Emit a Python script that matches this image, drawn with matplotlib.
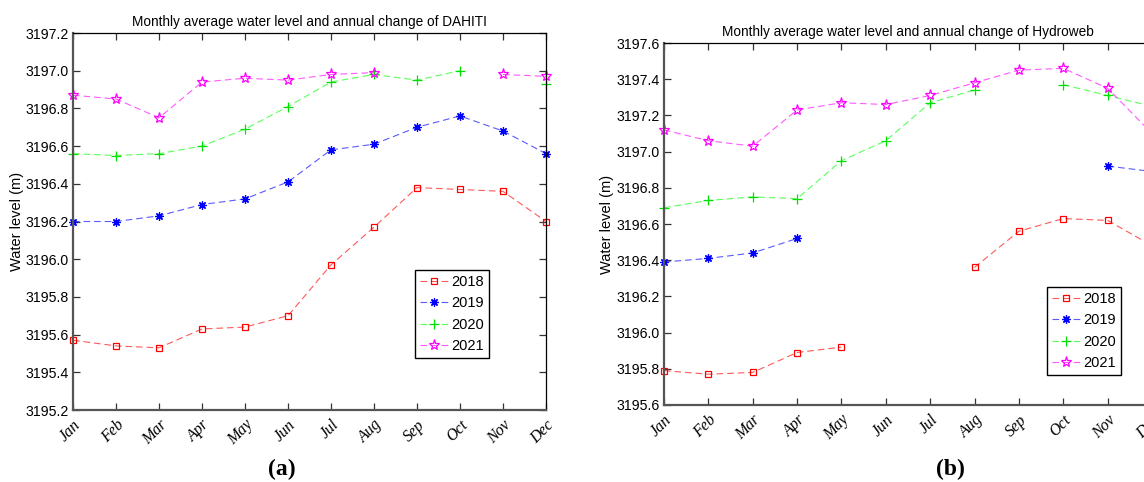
import numpy as np
import matplotlib.pyplot as plt
import matplotlib.transforms as mtransforms

nan = np.nan

months = ['Jan', 'Feb', 'Mar', 'Apr', 'May', 'Jun', 'Jul', 'Aug', 'Sep', 'Oct', 'Nov', 'Dec']
years = ['2018', '2019', '2020', '2021']

# DAHITI monthly means (m)
dahiti_2018 = [3195.57, 3195.54, 3195.53, 3195.63, 3195.64, 3195.70, 3195.97, 3196.17, 3196.38, 3196.37, 3196.36, 3196.20]
dahiti_2019 = [3196.20, 3196.20, 3196.23, 3196.29, 3196.32, 3196.41, 3196.58, 3196.61, 3196.70, 3196.76, 3196.68, 3196.56]
dahiti_2020 = [3196.56, 3196.55, 3196.56, 3196.60, 3196.69, 3196.81, 3196.94, 3196.98, 3196.95, 3197.00, nan, 3196.93]
dahiti_2021 = [3196.87, 3196.85, 3196.75, 3196.94, 3196.96, 3196.95, 3196.98, 3196.99, nan, nan, 3196.98, 3196.97]

# Hydroweb monthly means (m)
hydro_2018 = [3195.79, 3195.77, 3195.78, 3195.89, 3195.92, nan, nan, 3196.36, 3196.56, 3196.63, 3196.62, 3196.48]
hydro_2019 = [3196.39, 3196.41, 3196.44, 3196.52, nan, nan, nan, nan, nan, nan, 3196.92, 3196.89]
hydro_2020 = [3196.69, 3196.73, 3196.75, 3196.74, 3196.95, 3197.06, 3197.27, 3197.34, nan, 3197.37, 3197.31, 3197.25]
hydro_2021 = [3197.12, 3197.06, 3197.03, 3197.23, 3197.27, 3197.26, 3197.31, 3197.38, 3197.45, 3197.46, 3197.35, 3197.10]

# line colour, marker colour, marker, size, face
styles = [
    ('#ff5a5a', '#ff0000', 's', 5, 'none'),
    ('#5a5aff', '#0000ff', (8, 2, 0), 6, '#0000ff'),
    ('#5aff5a', '#00e000', '+', 7, 'none'),
    ('#ff5aff', '#ff00ff', '*', 8, 'none'),
]

sans = ['Liberation Sans', 'DejaVu Sans']
serif = ['Liberation Serif', 'DejaVu Serif']

W, H = 1144, 482
fig = plt.figure(figsize=(W / 100, H / 100), dpi=100)


def px_axes(l, r, t, b):
    return fig.add_axes([l / W, (H - b) / H, (r - l) / W, (b - t) / H])


def draw(ax, series, ylim, title, ylab_x):
    x = np.arange(len(months))
    for vals, yr, (lc, mc, mk, ms, mf) in zip(series, years, styles):
        ax.plot(x, vals, color=lc, lw=0.8, ls=(0, (6, 3.5)), marker=mk, ms=ms,
                mec=mc, mfc=mf, mew=0.9, label=yr, clip_on=False)
    ax.set_xlim(0, 11)
    ax.set_ylim(*ylim)
    ticks = np.arange(ylim[0], ylim[1] + 0.01, 0.2)
    ax.set_yticks(ticks)
    ax.set_yticklabels(['%.1f' % v for v in ticks], family=sans, fontsize=10.2)
    ax.set_xticks(x)
    ax.set_xticklabels(months, family=serif, style='italic', fontsize=11.5,
                       rotation=45, ha='right', rotation_mode='anchor')
    ax.tick_params(direction='in', length=5, width=0.9, color='#333333',
                   top=True, right=True, pad=3)
    ax.tick_params(axis='x', pad=5)
    for s in ['left', 'bottom']:
        ax.spines[s].set_color('#555555')
        ax.spines[s].set_linewidth(1.6)
    for s in ['top', 'right']:
        ax.spines[s].set_color('black')
        ax.spines[s].set_linewidth(0.9)
    ax.set_ylabel('Water level (m)', family=sans, fontsize=10.5, va='center')
    ax.yaxis.set_label_coords(
        ylab_x / W, 0.5,
        transform=mtransforms.blended_transform_factory(fig.transFigure, ax.transAxes))
    ax.set_title(title, family=sans, fontsize=9.8, pad=5)
    leg = ax.legend(loc='lower right', fancybox=False, framealpha=1,
                    edgecolor='black', handlelength=2.0, handletextpad=0.15,
                    borderpad=0.35, labelspacing=0.5, borderaxespad=0,
                    prop={'family': sans, 'size': 10.5})
    leg.get_frame().set_linewidth(1.0)
    return leg


ax1 = px_axes(73, 546, 33, 410)
leg1 = draw(ax1, [dahiti_2018, dahiti_2019, dahiti_2020, dahiti_2021], (3195.2, 3197.2),
            'Monthly average water level and annual change of DAHITI', 17)
leg1.set_bbox_to_anchor((489 / W, (H - 358) / H), transform=fig.transFigure)

ax2 = px_axes(664, 1152, 43, 405)
leg2 = draw(ax2, [hydro_2018, hydro_2019, hydro_2020, hydro_2021], (3195.6, 3197.6),
            'Monthly average water level and annual change of Hydroweb', 607)
leg2.set_bbox_to_anchor((1121 / W, (H - 375) / H), transform=fig.transFigure)

fig.text(282 / W, 1 - 469 / H, '(a)', family=serif, weight='bold', fontsize=17,
         ha='center', va='center')
fig.text(950 / W, 1 - 469 / H, '(b)', family=serif, weight='bold', fontsize=17,
         ha='center', va='center')

fig.savefig('out.png', dpi=100)
